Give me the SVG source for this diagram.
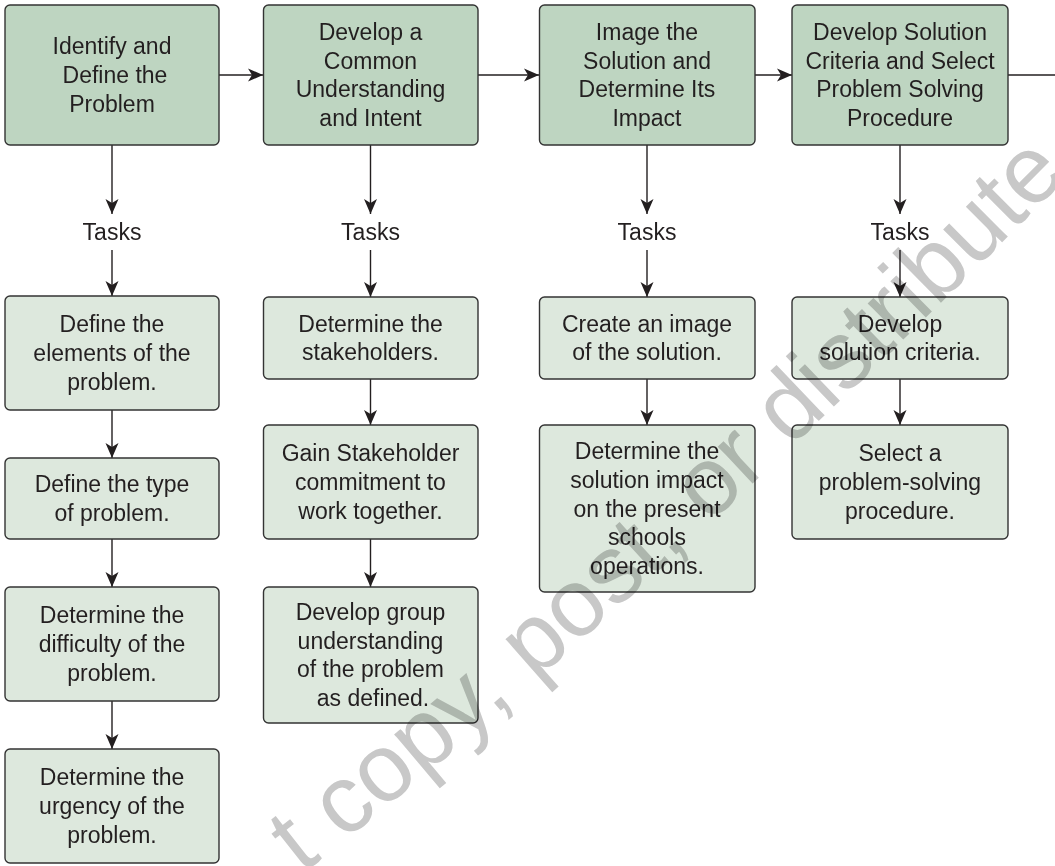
<svg xmlns="http://www.w3.org/2000/svg" width="1055" height="866" viewBox="0 0 1055 866">
<style>
  .main { fill: #bed5c1; stroke: #333333; stroke-width: 1.4; }
  .task { fill: #dde8dd; stroke: #333333; stroke-width: 1.4; }
  text { font-family: "Liberation Sans", Arial, sans-serif; font-size: 23px; fill: #231f20; text-anchor: middle; }
  .conn { stroke: #231f20; stroke-width: 1.4; fill: none; }
  .wm { font-family: "Liberation Sans", Arial, sans-serif; font-size: 96px; fill: #c8c8c8; text-anchor: start; mix-blend-mode: multiply; }
</style>
<defs>
  <marker id="ah" markerUnits="userSpaceOnUse" markerWidth="16" markerHeight="14" refX="15" refY="7" orient="auto">
    <path d="M0,0.5 L15,7 L0,13.5 L4,7 Z" fill="#231f20"/>
  </marker>
  <path id="wmpath" d="M 240 922 Q 600 650 1084 160"/>
</defs>
<rect width="1055" height="866" fill="#ffffff"/>

<g id="connectors">
  <line class="conn" x1="219" y1="75" x2="263" y2="75" marker-end="url(#ah)"/>
  <line class="conn" x1="478" y1="75" x2="539" y2="75" marker-end="url(#ah)"/>
  <line class="conn" x1="755" y1="75" x2="792" y2="75" marker-end="url(#ah)"/>
  <line class="conn" x1="1008" y1="75" x2="1055" y2="75"/>
  <!-- column 1 -->
  <line class="conn" x1="112" y1="145" x2="112" y2="214" marker-end="url(#ah)"/>
  <line class="conn" x1="112" y1="250" x2="112" y2="296" marker-end="url(#ah)"/>
  <line class="conn" x1="112" y1="410" x2="112" y2="458" marker-end="url(#ah)"/>
  <line class="conn" x1="112" y1="539" x2="112" y2="587" marker-end="url(#ah)"/>
  <line class="conn" x1="112" y1="701" x2="112" y2="749" marker-end="url(#ah)"/>
  <!-- column 2 -->
  <line class="conn" x1="370.5" y1="145" x2="370.5" y2="214" marker-end="url(#ah)"/>
  <line class="conn" x1="370.5" y1="250" x2="370.5" y2="297" marker-end="url(#ah)"/>
  <line class="conn" x1="370.5" y1="379" x2="370.5" y2="425" marker-end="url(#ah)"/>
  <line class="conn" x1="370.5" y1="539" x2="370.5" y2="587" marker-end="url(#ah)"/>
  <!-- column 3 -->
  <line class="conn" x1="647" y1="145" x2="647" y2="214" marker-end="url(#ah)"/>
  <line class="conn" x1="647" y1="250" x2="647" y2="297" marker-end="url(#ah)"/>
  <line class="conn" x1="647" y1="379" x2="647" y2="425" marker-end="url(#ah)"/>
  <!-- column 4 -->
  <line class="conn" x1="900" y1="145" x2="900" y2="214" marker-end="url(#ah)"/>
  <line class="conn" x1="900" y1="250" x2="900" y2="297" marker-end="url(#ah)"/>
  <line class="conn" x1="900" y1="379" x2="900" y2="425" marker-end="url(#ah)"/>
</g>

<g id="n1">
  <rect class="main" x="5" y="5" width="214" height="140" rx="5"/>
  <text x="112" y="54.3">Identify and</text>
  <text x="115" y="83">Define the</text>
  <text x="112" y="111.7">Problem</text>
</g>
<g id="n2">
  <rect class="main" x="263.5" y="5" width="214.5" height="140" rx="5"/>
  <text x="370.5" y="40">Develop a</text>
  <text x="370.5" y="68.7">Common</text>
  <text x="370.5" y="97.4">Understanding</text>
  <text x="370.5" y="126">and Intent</text>
</g>
<g id="n3">
  <rect class="main" x="539.5" y="5" width="215.5" height="140" rx="5"/>
  <text x="647" y="40">Image the</text>
  <text x="647" y="68.7">Solution and</text>
  <text x="647" y="97.4">Determine Its</text>
  <text x="647" y="126">Impact</text>
</g>
<g id="n4">
  <rect class="main" x="792" y="5" width="216" height="140" rx="5"/>
  <text x="900" y="40">Develop Solution</text>
  <text x="900" y="68.7">Criteria and Select</text>
  <text x="900" y="97.4">Problem Solving</text>
  <text x="900" y="126">Procedure</text>
</g>

<g id="tasks1"><text x="112" y="240">Tasks</text></g>
<g id="tasks2"><text x="370.5" y="240">Tasks</text></g>
<g id="tasks3"><text x="647" y="240">Tasks</text></g>
<g id="tasks4"><text x="900" y="240">Tasks</text></g>

<!-- column 1 tasks -->
<g id="t1a">
  <rect class="task" x="5" y="296" width="214" height="114" rx="5"/>
  <text x="112" y="332.3">Define the</text>
  <text x="112" y="361">elements of the</text>
  <text x="112" y="389.7">problem.</text>
</g>
<g id="t1b">
  <rect class="task" x="5" y="458" width="214" height="81" rx="5"/>
  <text x="112" y="492">Define the type</text>
  <text x="112" y="520.7">of problem.</text>
</g>
<g id="t1c">
  <rect class="task" x="5" y="587" width="214" height="114" rx="5"/>
  <text x="112" y="623.3">Determine the</text>
  <text x="112" y="652">difficulty of the</text>
  <text x="112" y="680.7">problem.</text>
</g>
<g id="t1d">
  <rect class="task" x="5" y="749" width="214" height="114" rx="5"/>
  <text x="112" y="785.3">Determine the</text>
  <text x="112" y="814">urgency of the</text>
  <text x="112" y="842.7">problem.</text>
</g>

<!-- column 2 tasks -->
<g id="t2a">
  <rect class="task" x="263.5" y="297" width="214.5" height="82" rx="5"/>
  <text x="370.5" y="331.6">Determine the</text>
  <text x="370.5" y="360.3">stakeholders.</text>
</g>
<g id="t2b">
  <rect class="task" x="263.5" y="425" width="214.5" height="114" rx="5"/>
  <text x="370.5" y="461.3">Gain Stakeholder</text>
  <text x="370.5" y="490">commitment to</text>
  <text x="370.5" y="518.7">work together.</text>
</g>
<g id="t2c">
  <rect class="task" x="263.5" y="587" width="214.5" height="136" rx="5"/>
  <text x="370.5" y="620">Develop group</text>
  <text x="370.5" y="648.7">understanding</text>
  <text x="370.5" y="677.4">of the problem</text>
  <text x="373" y="706">as defined.</text>
</g>

<!-- column 3 tasks -->
<g id="t3a">
  <rect class="task" x="539.5" y="297" width="215.5" height="82" rx="5"/>
  <text x="647" y="331.6">Create an image</text>
  <text x="647" y="360.3">of the solution.</text>
</g>
<g id="t3b">
  <rect class="task" x="539.5" y="425" width="215.5" height="167" rx="5"/>
  <text x="647" y="459.1">Determine the</text>
  <text x="647" y="487.8">solution impact</text>
  <text x="647" y="516.5">on the present</text>
  <text x="647" y="545.2">schools</text>
  <text x="647" y="573.9">operations.</text>
</g>

<!-- column 4 tasks -->
<g id="t4a">
  <rect class="task" x="792" y="297" width="216" height="82" rx="5"/>
  <text x="900" y="331.6">Develop</text>
  <text x="900" y="360.3">solution criteria.</text>
</g>
<g id="t4b">
  <rect class="task" x="792" y="425" width="216" height="114" rx="5"/>
  <text x="900" y="461.3">Select a</text>
  <text x="900" y="490">problem-solving</text>
  <text x="900" y="518.7">procedure.</text>
</g>

<g id="watermark">
  <text class="wm"><textPath href="#wmpath" startOffset="78">t copy, post, or distribute</textPath></text>
</g>
</svg>
